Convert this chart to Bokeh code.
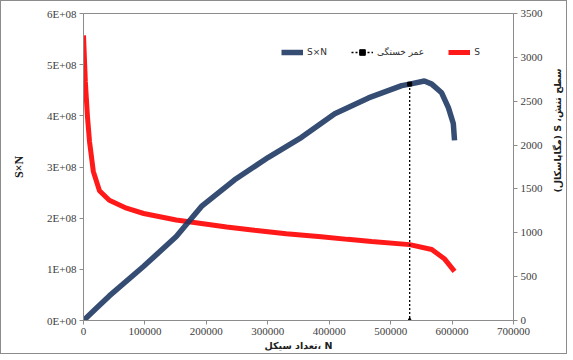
import math
from bokeh.plotting import figure
from bokeh.layouts import row
from bokeh.models import (Range1d, LinearAxis, FixedTicker, Legend, LegendItem,
                          Label)
from bokeh.embed import file_html
from bokeh.resources import INLINE

# ---- data ----
N_S = [0, 3000, 6500, 9800, 16000, 26000, 42000, 70000, 98000, 151000,
       233000, 278000, 330000, 387000, 430000, 469000, 531000, 567000,
       588000, 604000]
S_MPa = [3250, 2720, 2320, 2040, 1700, 1480, 1370, 1280, 1220, 1145,
         1065, 1030, 990, 955, 925, 900, 865, 810, 700, 560]

N_SN = [0, 20000, 42000, 98000, 151000, 192000, 246000, 301000, 355000,
        409000, 464000, 518000, 531000, 555000, 567000, 583000, 594000,
        602000, 604000]
SN = [0, 0.23e8, 0.48e8, 1.06e8, 1.64e8, 2.23e8, 2.75e8, 3.19e8, 3.58e8,
      4.04e8, 4.35e8, 4.59e8, 4.62e8, 4.68e8, 4.62e8, 4.45e8, 4.16e8,
      3.85e8, 3.52e8]

fatigue_N = [531000, 531000]
fatigue_SN = [4.62e8, 0]

x_ticks = [0, 100000, 200000, 300000, 400000, 500000, 600000, 700000]
x_tick_labels = ["0", "100000", "200000", "300000", "400000", "500000",
                 "600000", "700000"]
left_ticks = [0, 100000000, 200000000, 300000000, 400000000, 500000000,
              600000000]
left_tick_labels = ["0E+00", "1E+08", "2E+08", "3E+08", "4E+08", "5E+08",
                    "6E+08"]
right_ticks = [0, 500, 1000, 1500, 2000, 2500, 3000, 3500]
right_tick_labels = ["0", "500", "1000", "1500", "2000", "2500", "3000",
                     "3500"]

label_sn = "S×N"
label_life = "عمر خستگی"
label_s = "S"
x_title = "تعداد سیکل، N"
left_title = "S×N"
right_title = "سطح تنش، S (مگاپاسکال)"

# ---- main figure ----
p = figure(width=545, height=352, output_backend="svg", toolbar_location=None,
           x_range=Range1d(0, 700000), y_range=Range1d(0, 6e8),
           min_border_left=82, min_border_right=33, min_border_top=12,
           min_border_bottom=30)
p.extra_y_ranges = {"s": Range1d(0, 3500)}
p.xgrid.visible = False
p.ygrid.visible = False
p.outline_line_color = "#8c8c8c"
p.outline_line_width = 1

serif = "Liberation Serif"
tick_color = "#404040"
axis_color = "#8c8c8c"

def style_axis(ax):
    ax.axis_line_color = axis_color
    ax.major_tick_line_color = axis_color
    ax.major_tick_out = 4
    ax.major_tick_in = 0
    ax.minor_tick_line_color = None
    ax.major_label_text_font = serif
    ax.major_label_text_font_size = "11px"
    ax.major_label_text_color = tick_color
    ax.major_label_standoff = 3
    ax.axis_label_text_font_style = "bold"
    ax.axis_label_text_color = "#202020"

xa = p.xaxis[0]
xa.ticker = FixedTicker(ticks=x_ticks)
xa.major_label_overrides = dict(zip(x_ticks, x_tick_labels))
xa.axis_label = x_title
xa.axis_label_text_font = "DejaVu Sans"
xa.axis_label_text_font_size = "9.5px"
xa.axis_label_standoff = 2
style_axis(xa)

ya = p.yaxis[0]
ya.ticker = FixedTicker(ticks=left_ticks)
ya.major_label_overrides = dict(zip(left_ticks, left_tick_labels))
ya.axis_label = left_title
ya.axis_label_text_font = serif
ya.axis_label_text_font_size = "12px"
ya.axis_label_standoff = 18
style_axis(ya)

ra = LinearAxis(y_range_name="s", ticker=FixedTicker(ticks=right_ticks))
ra.major_label_overrides = dict(zip(right_ticks, right_tick_labels))
style_axis(ra)
p.add_layout(ra, "right")

# ---- glyphs ----
r_s = p.line(N_S, S_MPa, y_range_name="s", line_color="#ff0000",
             line_width=5, line_alpha=0.9)
r_sn = p.line(N_SN, SN, line_color="#1f3864", line_width=5.5, line_alpha=0.9)
r_life = p.line(fatigue_N, fatigue_SN, line_color="#000000", line_width=1.3,
                line_dash="2 2")
r_mk = p.scatter(fatigue_N[:1], fatigue_SN[:1], marker="square", size=4,
                 color="#000000")
r_mk2 = p.scatter(fatigue_N[1:], fatigue_SN[1:], marker="triangle", size=5,
                  color="#000000")

legend = Legend(items=[
    LegendItem(label=label_sn, renderers=[r_sn]),
    LegendItem(label=label_life, renderers=[r_life, r_mk]),
    LegendItem(label=label_s, renderers=[r_s]),
], orientation="horizontal", location=(198, 261))
legend.background_fill_alpha = 0
legend.border_line_color = None
legend.padding = 0
legend.margin = 0
legend.spacing = 24
legend.glyph_width = 22
legend.glyph_height = 14
legend.label_standoff = 4
legend.label_text_font = "DejaVu Sans"
legend.label_text_font_size = "9px"
legend.label_text_color = "#303030"
p.add_layout(legend, "center")

# ---- narrow strip carrying the right-axis title (reads bottom-to-top) ----
p2 = figure(width=20, height=352, output_backend="svg", toolbar_location=None,
            x_range=Range1d(0, 1), y_range=Range1d(0, 1),
            x_axis_type=None, y_axis_type=None, min_border=0)
p2.xgrid.visible = False
p2.ygrid.visible = False
p2.outline_line_color = None
# right-to-left embedding so the Persian title reads as in the reference
rt = Label(x=11, y=190, x_units="screen", y_units="screen",
           text="\u202b" + right_title + "\u202c",
           angle=math.pi / 2, text_align="center", text_baseline="middle",
           text_font="DejaVu Sans", text_font_size="9.5px",
           text_font_style="bold", text_color="#202020")
p2.add_layout(rt)

layout = row(p, p2, spacing=0,
             styles={"border": "1px solid #8c8c8c", "box-sizing": "border-box"})

open("out.html", "w").write(file_html(layout, INLINE))
